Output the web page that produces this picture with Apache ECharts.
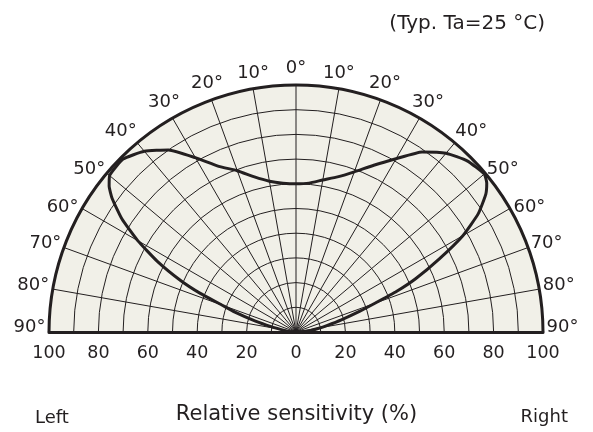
<!DOCTYPE html>
<html>
<head>
<meta charset="utf-8">
<script src="https://cdn.jsdelivr.net/npm/echarts@6/dist/echarts.min.js"></script>
<style>
  html, body { margin: 0; padding: 0; background: #fff; }
  #chart { width: 593px; height: 432px; }
</style>
</head>
<body>
<div id="chart"></div>
<script>
// directivity curve, angle from vertical (deg, left negative) and relative sensitivity (%)
var angles = [-90, -87, -84, -81, -78, -75, -72, -70, -68, -66, -63, -60, -57, -54, -52, -50, -45, -40, -35, -30, -25, -20, -15, -10, -5,
  0, 5, 10, 15, 20, 25, 30, 35, 40, 45, 50, 52, 54, 57, 60, 63, 66, 68, 70, 72, 75, 78, 81, 84, 87, 90];
var sensitivity = [0, 2, 4, 6, 10, 17, 26, 32, 42, 51, 63, 74, 84, 92, 96, 98.5, 99, 95.5, 90, 81.5, 74, 69.5, 65, 62, 60.5,
  60, 60.5, 62.5, 65, 69, 74.5, 81, 89, 94.5, 98, 99.5, 98, 95, 88, 78, 65, 53, 44, 34, 27, 19, 13, 9, 6, 3, 0];
var angleTicks = [-90, -80, -70, -60, -50, -40, -30, -20, -10, 0, 10, 20, 30, 40, 50, 60, 70, 80, 90];
var xTicks = [-100, -80, -60, -40, -20, 0, 20, 40, 60, 80, 100];

var ink = '#231f20';
var font = 'DejaVu Sans';

// where each angle label sits against its arc point: [outward x, y]
var labelShift = {
  0: [0, -16], 10: [0, -15], 20: [4, -16], 30: [8, -15], 40: [16, -11],
  50: [17, -3], 60: [19, -1], 70: [18, -4], 80: [19, -4], 90: [19, -5]
};

var curve = [];
for (var i = 0; i < angles.length; i++) {
  curve.push([sensitivity[i], angles[i]]);
}

// echarts picks the label anchor side itself, so the shift is done with padding
var rich = {};
angleTicks.forEach(function (a, idx) {
  var abs = Math.abs(a);
  var s = labelShift[abs];
  var sx = a < 0 ? -s[0] : s[0];
  var pad = [0, 0, 0, 0];
  if (abs <= 10) {
    if (sx > 0) pad[3] = 2 * sx; else pad[1] = -2 * sx;
  } else if (a < 0) {
    pad[1] = s[0];
  } else {
    pad[3] = s[0];
  }
  if (abs >= 80) pad[2] = -2 * s[1]; else pad[2] = -s[1];
  rich['a' + idx] = {
    fontFamily: font,
    fontSize: 18,
    color: ink,
    width: 1,
    height: 1,
    align: 'center',
    verticalAlign: 'middle',
    padding: pad
  };
});

var myChart = echarts.init(document.getElementById('chart'));
myChart.setOption({
  animation: false,
  title: [
    { text: '(Typ. Ta=25 °C)', right: 43, top: 9, textStyle: { fontFamily: font, fontSize: 20, fontWeight: 'normal', color: ink } },
    { text: 'Left', left: 30, top: 404, textStyle: { fontFamily: font, fontSize: 18, fontWeight: 'normal', color: ink } },
    { text: 'Relative sensitivity (%)', left: 'center', top: 399, textStyle: { fontFamily: font, fontSize: 21, fontWeight: 'normal', color: ink } },
    { text: 'Right', right: 20, top: 403, textStyle: { fontFamily: font, fontSize: 18, fontWeight: 'normal', color: ink } }
  ],
  polar: [
    { center: [296, 332], radius: 247 },
    { center: [296, 332], radius: 247 }
  ],
  angleAxis: [
    {
      polarIndex: 0,
      type: 'value', min: -90, max: 90, interval: 90,
      startAngle: 180, endAngle: 0, clockwise: true,
      axisLine: { show: false }, axisTick: { show: false }, axisLabel: { show: false },
      splitLine: { show: false }
    },
    {
      polarIndex: 1,
      type: 'value',
      min: -90,
      max: 90,
      interval: 10,
      startAngle: 180,
      endAngle: 0,
      clockwise: true,
      z: 3,
      axisLine: { lineStyle: { color: ink, width: 3 } },
      axisTick: { show: false },
      axisLabel: {
        margin: 0,
        formatter: function (v) {
          return '{a' + angleTicks.indexOf(v) + '|' + Math.abs(v) + '°}';
        },
        rich: rich
      },
      splitLine: { show: true, lineStyle: { color: ink, width: 1 } }
    }
  ],
  radiusAxis: [
    {
      polarIndex: 0,
      type: 'value', min: 0, max: 100, interval: 100,
      axisLine: { show: false }, axisTick: { show: false }, axisLabel: { show: false },
      splitLine: { show: false },
      splitArea: { show: true, areaStyle: { color: ['#f1f0e8'] } }
    },
    {
      polarIndex: 1,
      type: 'value',
      min: 0,
      max: 100,
      interval: 10,
      z: 3,
      axisLine: { show: false },
      axisTick: { show: false },
      axisLabel: { show: false },
      splitLine: { show: true, lineStyle: { color: ink, width: 1 } }
    }
  ],
  grid: [
    { left: 49, width: 494, top: 85, height: 247 },
    // white band under the baseline hides the lower half of the disc fill
    { left: 0, right: 0, top: 333, bottom: 0, show: true, backgroundColor: '#fff', borderWidth: 0, z: 1 }
  ],
  xAxis: [
    {
      gridIndex: 0,
      type: 'value',
      min: -100,
      max: 100,
      interval: 20,
      z: 4,
      axisLine: { onZero: false, lineStyle: { color: ink, width: 3 } },
      axisTick: { show: false },
      splitLine: { show: false },
      axisLabel: {
        fontFamily: font,
        fontSize: 17.5,
        color: ink,
        margin: 12,
        formatter: function (v) { return Math.abs(v); }
      }
    },
    { gridIndex: 1, type: 'value', show: false }
  ],
  yAxis: [
    { gridIndex: 0, type: 'value', min: 0, max: 1, show: false },
    { gridIndex: 1, type: 'value', show: false }
  ],
  series: [
    {
      type: 'line',
      coordinateSystem: 'polar',
      polarIndex: 1,
      data: curve,
      smooth: 0.15,
      symbol: 'none',
      lineStyle: { color: ink, width: 3 },
      z: 5
    }
  ]
});
</script>
</body>
</html>
